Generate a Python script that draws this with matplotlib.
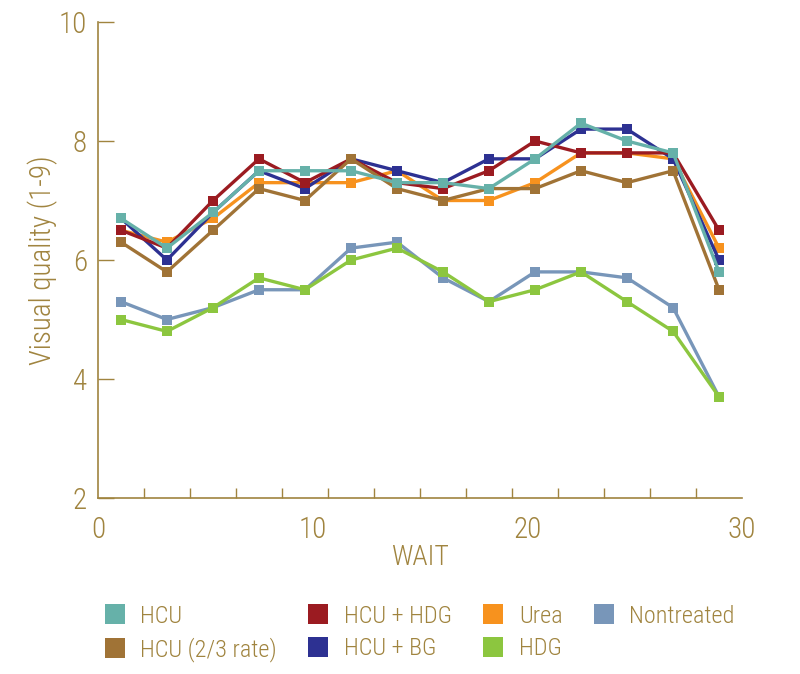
import matplotlib
matplotlib.use("Agg")
import matplotlib.pyplot as plt
from matplotlib.lines import Line2D

plt.rcParams['font.family'] = ['Roboto Condensed', 'Liberation Sans Narrow', 'DejaVu Sans']
plt.rcParams['font.stretch'] = 'condensed'
plt.rcParams['font.weight'] = 'light'
plt.rcParams['axes.labelweight'] = 'light'

TXT = '#a0843f'

weeks = [1.07, 3.21, 5.36, 7.5, 9.64, 11.79, 13.93, 16.07, 18.21, 20.36, 22.5, 24.64, 26.79, 28.93]

hcu        = [6.7, 6.2, 6.8, 7.5, 7.5, 7.5, 7.3, 7.3, 7.2, 7.7, 8.3, 8.0, 7.8, 5.8]
hcu_23     = [6.3, 5.8, 6.5, 7.2, 7.0, 7.7, 7.2, 7.0, 7.2, 7.2, 7.5, 7.3, 7.5, 5.5]
hcu_hdg    = [6.5, 6.2, 7.0, 7.7, 7.3, 7.7, 7.3, 7.2, 7.5, 8.0, 7.8, 7.8, 7.8, 6.5]
hcu_bg     = [6.7, 6.0, 6.8, 7.5, 7.2, 7.7, 7.5, 7.3, 7.7, 7.7, 8.2, 8.2, 7.7, 6.0]
urea       = [6.5, 6.3, 6.7, 7.3, 7.3, 7.3, 7.5, 7.0, 7.0, 7.3, 7.8, 7.8, 7.7, 6.2]
hdg        = [5.0, 4.8, 5.2, 5.7, 5.5, 6.0, 6.2, 5.8, 5.3, 5.5, 5.8, 5.3, 4.8, 3.7]
nontreated = [5.3, 5.0, 5.2, 5.5, 5.5, 6.2, 6.3, 5.7, 5.3, 5.8, 5.8, 5.7, 5.2, 3.7]

labels = ['HCU', 'HCU (2/3 rate)', 'HCU + HDG', 'HCU + BG', 'Urea', 'HDG', 'Nontreated']
colors = ['#66b1a9', '#a07336', '#9b1b21', '#2d3192', '#f7921e', '#8cc63f', '#7896b9']
series = [hcu, hcu_23, hcu_hdg, hcu_bg, urea, hdg, nontreated]
zorders = [7, 6, 5, 4, 3, 8, 2]

fig = plt.figure(figsize=(8.0, 6.74), dpi=100)
ax = fig.add_axes([98/800, 1-498/674, 644/800, 476/674])

for ys, c, z in zip(series, colors, zorders):
    ax.plot(weeks, ys, color=c, lw=2.4, marker='s', markersize=7.8,
            markeredgewidth=0, zorder=z, clip_on=False)

ax.set_xlim(0, 30)
ax.set_ylim(2, 10)
ax.set_xticks([0, 10, 20, 30])
ax.set_xticks([i * 30 / 14 for i in range(15)], minor=True)
ax.set_yticks([2, 4, 6, 8, 10])
ax.tick_params(axis='x', which='major', length=0, pad=13, labelsize=21, labelcolor=TXT)
ax.tick_params(axis='x', which='minor', direction='in', length=7, width=1, color=TXT)
ax.tick_params(axis='y', which='major', direction='in', length=11.5, width=1, color=TXT,
               pad=8, labelsize=21, labelcolor=TXT)
for s in ['top', 'right']:
    ax.spines[s].set_visible(False)
for s in ['left', 'bottom']:
    ax.spines[s].set_color(TXT)
    ax.spines[s].set_linewidth(1.2)

ax.set_xlabel('WAIT', fontsize=20, color=TXT, labelpad=0, fontweight='light')
ax.set_ylabel('Visual quality (1-9)', fontsize=21, color=TXT, labelpad=0.5, fontweight='light')

handles = [Line2D([], [], ls='none', marker='s', markersize=15, markeredgewidth=0, color=c)
           for c in colors]
leg = fig.legend(handles, labels, ncol=4, loc='upper left', bbox_to_anchor=(104/800, 1-605/674),
                 frameon=False, fontsize=17.5, handlelength=0.9, handletextpad=0.6,
                 columnspacing=1.25, labelspacing=0.38, borderpad=0, borderaxespad=0)
for t in leg.get_texts():
    t.set_color(TXT)

fig.savefig('out.png', dpi=100)
